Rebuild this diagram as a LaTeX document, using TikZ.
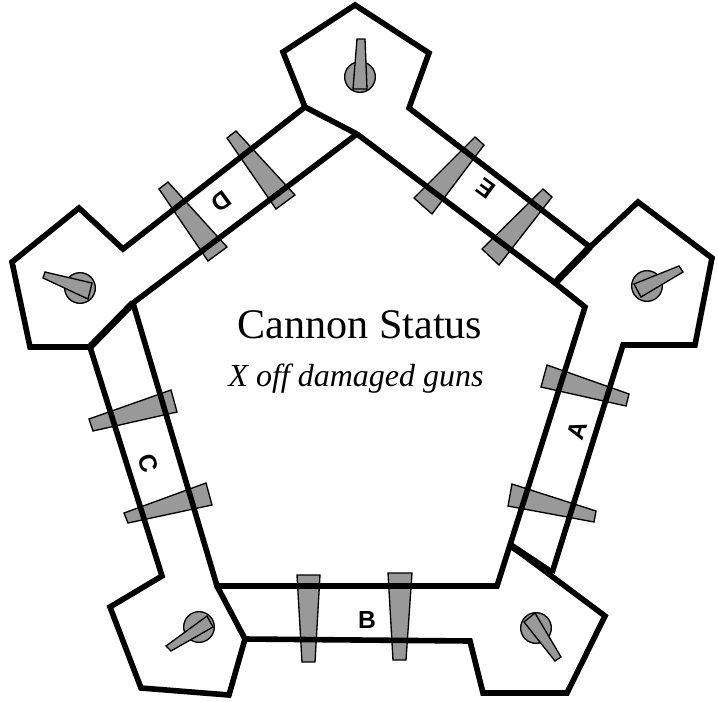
\documentclass[tikz,border=0pt]{standalone}
\usepackage{fontspec}
\setmainfont{Liberation Serif}
\newfontfamily\lblfont{Liberation Sans}
\tikzset{
  wall/.style={draw=black,line width=4.2pt,line join=miter,line cap=butt},
  wallthick/.style={draw=black,line width=5.2pt,line cap=butt},
  gun/.style={draw=black,line width=1pt,fill=gunfill,line join=miter},
  turret/.style={draw=black,line width=1pt,fill=gunfill,circle,minimum size=23pt,inner sep=0pt},
  lbl/.style={font=\lblfont\bfseries\fontsize{18.5}{18.5}\selectfont,inner sep=0pt}
}
\definecolor{gunfill}{HTML}{999999}
\begin{document}
\begin{tikzpicture}[x=0.75pt,y=-0.75pt]
\useasboundingbox (0,0) rectangle (718,701);
% wall guns
\draw[gun] (414,198) -- (475,137) -- (484,145) -- (432,214) -- cycle;
\draw[gun] (482,249) -- (543,189) -- (552,197) -- (499,265) -- cycle;
\draw[gun] (547,365) -- (629,394) -- (626,406) -- (541,387) -- cycle;
\draw[gun] (512,484) -- (596,511) -- (594,522) -- (508,506) -- cycle;
\draw[gun] (388,573) -- (412,573) -- (406,660) -- (393,660) -- cycle;
\draw[gun] (297,575) -- (320,575) -- (315,662) -- (302,662) -- cycle;
\draw[gun] (171,390) -- (177,412) -- (93,431) -- (89,419) -- cycle;
\draw[gun] (206,483) -- (212,505) -- (128,523) -- (124,513) -- cycle;
\draw[gun] (168,182) -- (159,189) -- (208,261) -- (227,247) -- cycle;
\draw[gun] (236,131) -- (227,138) -- (276,209) -- (295,195) -- cycle;
% turrets
\node[turret] (t1) at (360,77) {};
\node[turret] (t2) at (647,286) {};
\node[turret] (t3) at (536,628) {};
\node[turret] (t4) at (199,627) {};
\node[turret] (t5) at (80,288) {};
\draw[gun] (357,39) -- (365,39) -- (367,89) -- (353,89) -- cycle;
\draw[gun] (679,266) -- (683,272) -- (641,297) -- (634,284) -- cycle;
\draw[gun] (561,657) -- (555,661) -- (524,622) -- (535,613) -- cycle;
\draw[gun] (166,646) -- (171,651) -- (213,627) -- (207,616) -- cycle;
\draw[gun] (45,272) -- (43,278) -- (88,299) -- (92,283) -- cycle;
% fort outline
\draw[wall] (357,134) -- (305,107) -- (283,52) -- (355,5) -- (429,53) -- (409,108)
  -- (590,247) -- (638,202) -- (712,258) -- (695,345) -- (623,345) -- (552,573);
\draw[wallthick] (590,247) -- (555,283);
\draw[wall] (357,134) -- (555,283) -- (585,307) -- (510,545) -- (497,586) -- (217,586) -- (133,303) -- (357,134);
\draw[wall] (510,545) -- (605,616) -- (567,693) -- (483,693) -- (470,641) -- (245,639)
  -- (217,586);
\draw[wallthick] (510,545) -- (552,573);
\draw[wall] (245,639) -- (229,695) -- (141,688) -- (110,607) -- (162,576) -- (90,347) -- (30,347)
  -- (12,262) -- (79,208) -- (123,249) -- (305,107);
\draw[wallthick] (90,347) -- (133,303);
% labels
\node[lbl,rotate=72] (la) at (577,430) {A};
\node[lbl] (lb) at (367,620) {B};
\node[lbl,rotate=-72] (lc) at (148,463) {C};
\node[lbl,rotate=-144] (ld) at (221,202) {D};
\node[lbl,rotate=144] (le) at (486,189) {E};
\node[font=\fontsize{31.6}{32}\selectfont,inner sep=0pt] (title) at (360,325) {Cannon Status};
\node[font=\itshape\fontsize{24}{24}\selectfont,inner sep=0pt] (sub) at (356,379) {X off damaged guns};
\end{tikzpicture}
\end{document}
